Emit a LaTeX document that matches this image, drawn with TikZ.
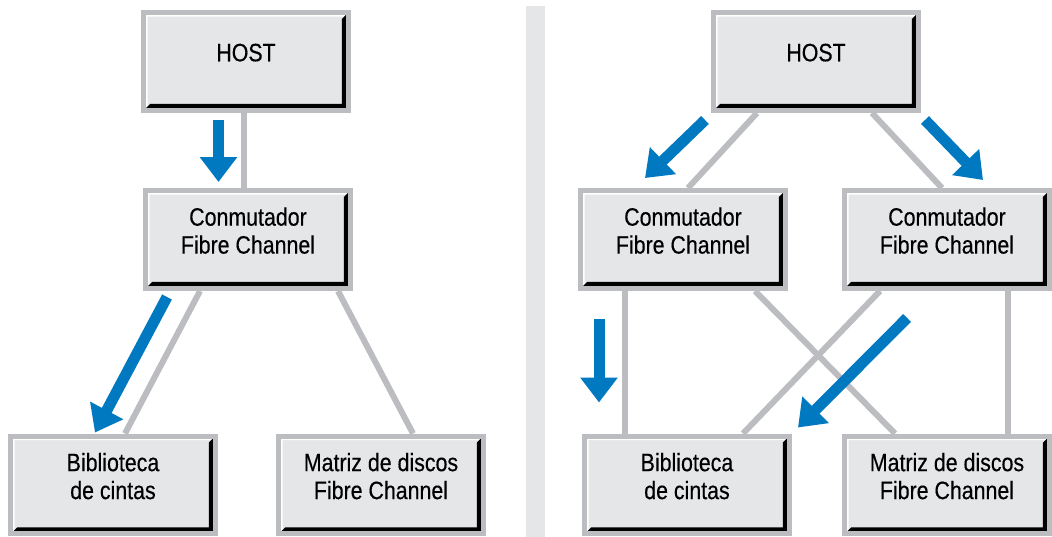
\documentclass[tikz,border=0pt]{standalone}
\usepackage{fontspec}
\setmainfont{Liberation Sans}[FakeStretch=0.85,FakeBold=0.35]
\usetikzlibrary{arrows.meta,positioning}
\definecolor{linkgray}{HTML}{BCBDC0}
\definecolor{panelgray}{HTML}{E5E6E8}
\definecolor{flowblue}{HTML}{0079C1}
\tikzset{
  raised/.style={path picture={
    \fill[white] (path picture bounding box.south west) |- (path picture bounding box.north east)
      -- ([shift={(-0.08cm,-0.08cm)}]path picture bounding box.north east)
      -| ([shift={(0.08cm,0.08cm)}]path picture bounding box.south west) -- cycle;
    \fill[black] (path picture bounding box.south west) -| (path picture bounding box.north east)
      -- ([shift={(-0.13cm,-0.13cm)}]path picture bounding box.north east)
      |- ([shift={(0.13cm,0.13cm)}]path picture bounding box.south west) -- cycle;
  }}
}

\begin{document}
\begin{tikzpicture}[x=0.02cm, y=0.02cm,
  unit/.style={rectangle, fill=panelgray, draw=linkgray, line width=0.1cm, raised,
    minimum width=4.1cm, minimum height=1.96cm, inner sep=0pt, align=center,
    text depth=0.36cm, font=\fontsize{14.3}{15.9}\selectfont},
  link/.style={draw=linkgray, line width=0.12cm},
  flow/.style={draw=flowblue, line width=0.22cm,
    -{Triangle[length=0.5cm,width=0.72cm]}}]
  \useasboundingbox (0,0) rectangle (1052,-537);

  % separator between the two set-ups
  \fill[panelgray] (526,-6) rectangle (545,-537);

  % single path
  \node[unit] (hostL) at (246,-61.5) {HOST};
  \node[unit] (conmL) at (248,-239.5) {Conmutador\\Fibre Channel};
  \node[unit] (bibL) at (113,-485) {Biblioteca\\de cintas};
  \node[unit] (matL) at (381,-485) {Matriz de discos\\Fibre Channel};

  % redundant paths
  \node[unit] (hostR) at (816,-61.5) {HOST};
  \node[unit] (conmRa) at (683,-239.5) {Conmutador\\Fibre Channel};
  \node[unit] (conmRb) at (947,-239.5) {Conmutador\\Fibre Channel};
  \node[unit] (bibR) at (687,-485) {Biblioteca\\de cintas};
  \node[unit] (matR) at (947,-485) {Matriz de discos\\Fibre Channel};

  % cables
  \draw[link] ([shift={(-2,0)}]hostL.south) -- ([shift={(-4,0)}]conmL.north);
  \draw[link] ([shift={(-48,0)}]conmL.south) -- ([shift={(12,0)}]bibL.north);
  \draw[link] ([shift={(90,0)}]conmL.south) -- ([shift={(32,0)}]matL.north);
  \draw[link] ([shift={(-59,0)}]hostR.south) -- ([shift={(5,0)}]conmRa.north);
  \draw[link] ([shift={(56,0)}]hostR.south) -- ([shift={(-5,0)}]conmRb.north);
  \draw[link] ([shift={(-58,0)}]conmRa.south) -- ([shift={(-62,0)}]bibR.north);
  \draw[link] ([shift={(72,0)}]conmRa.south) -- ([shift={(-52,0)}]matR.north);
  \draw[link] ([shift={(-67,0)}]conmRb.south) -- ([shift={(56,0)}]bibR.north);
  \draw[link] ([shift={(61,0)}]conmRb.south) -- ([shift={(61,0)}]matR.north);

  % data flow
  \draw[flow] ([shift={(-27.5,-7)}]hostL.south) -- ([shift={(-29.5,6)}]conmL.north);
  \draw[flow] ([shift={(-81,-6)}]conmL.south) -- ([shift={(-18,1)}]bibL.north);
  \draw[flow] ([shift={(-111,-7)}]hostR.south) -- ([shift={(-38,10)}]conmRa.north);
  \draw[flow] ([shift={(109,-7)}]hostR.south) -- ([shift={(36,8)}]conmRb.north);
  \draw[flow] ([shift={(-84,-28)}]conmRa.south) -- ([shift={(-88,31)}]bibR.north);
  \draw[flow] ([shift={(-40,-27)}]conmRb.south) -- ([shift={(111,6)}]bibR.north);
\end{tikzpicture}
\end{document}
